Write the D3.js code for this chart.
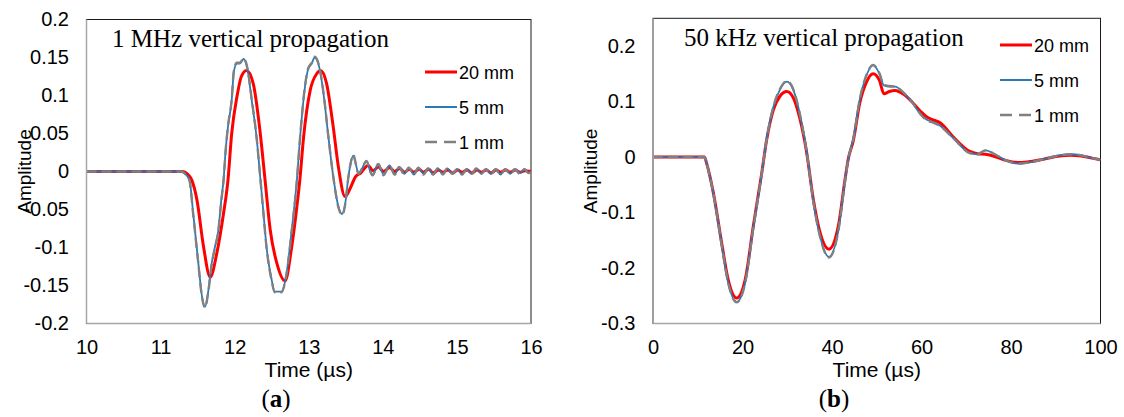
<!DOCTYPE html>
<html>
<head>
<meta charset="utf-8">
<script src="https://cdn.jsdelivr.net/npm/d3@7"></script>
<style>
  body { margin: 0; background: #fff; }
  svg { display: block; }
</style>
</head>
<body>
<svg id="chart" width="1124" height="417"></svg>
<script>
// ---- data ----
const seriesNames = ["20 mm", "5 mm", "1 mm"];

// (a) 1 MHz, time in µs
const mhz20mm = [[10,0],[11.3,0],[11.36,-0.003],[11.42,-0.011],[11.49,-0.037],[11.58,-0.099],[11.67,-0.139],[11.76,-0.107],[11.85,-0.055],[11.91,-0.011],[11.96,0.05],[12.03,0.098],[12.09,0.125],[12.16,0.133],[12.25,0.116],[12.34,0.055],[12.41,-0.011],[12.48,-0.077],[12.57,-0.121],[12.68,-0.144],[12.77,-0.099],[12.84,-0.046],[12.88,-0.011],[12.93,0.045],[13.02,0.107],[13.11,0.129],[13.16,0.133],[13.24,0.116],[13.33,0.059],[13.4,0.006],[13.49,-0.033],[13.56,-0.022],[13.63,-0.007],[13.7,-0.002],[13.8,0.008],[13.87,0.001],[13.94,0.006],[14.01,0],[14.09,0.005],[14.16,0],[14.23,0.004],[14.29,-0.001],[14.36,0.003],[14.42,-0.001],[14.49,0.003],[14.55,-0.001],[14.62,0.003],[14.68,-0.002],[14.75,0.002],[14.81,-0.001],[14.88,0.002],[14.94,-0.002],[15.01,0.002],[15.07,-0.001],[15.14,0.002],[15.2,-0.002],[15.27,0.002],[15.33,-0.001],[15.4,0.002],[15.46,-0.002],[15.53,0.002],[15.59,-0.001],[15.66,0.002],[15.72,-0.001],[15.79,0.002],[15.85,-0.001],[15.92,0.001],[16,0]];
const mhz5mm = [[10,0],[11.28,0],[11.33,-0.003],[11.39,-0.011],[11.44,-0.055],[11.51,-0.121],[11.56,-0.165],[11.6,-0.178],[11.64,-0.16],[11.69,-0.121],[11.73,-0.101],[11.78,-0.077],[11.82,-0.037],[11.85,-0.011],[11.88,0.03],[11.91,0.059],[11.96,0.094],[11.99,0.132],[12.03,0.142],[12.07,0.142],[12.12,0.148],[12.17,0.136],[12.23,0.094],[12.3,0.041],[12.34,-0.002],[12.38,-0.045],[12.43,-0.099],[12.5,-0.143],[12.54,-0.158],[12.63,-0.158],[12.7,-0.134],[12.77,-0.077],[12.84,-0.011],[12.88,0.041],[12.95,0.112],[12.99,0.134],[13.04,0.142],[13.08,0.15],[13.14,0.138],[13.21,0.094],[13.26,0.05],[13.33,-0.006],[13.4,-0.046],[13.45,-0.056],[13.5,-0.037],[13.53,-0.011],[13.56,0.008],[13.6,0.021],[13.64,0.008],[13.67,-0.003],[13.72,0.004],[13.78,0.014],[13.83,0],[13.86,-0.005],[13.94,0.01],[14.01,-0.004],[14.09,0.008],[14.16,-0.004],[14.22,0.006],[14.29,-0.003],[14.35,0.005],[14.42,-0.004],[14.48,0.005],[14.55,-0.003],[14.61,0.004],[14.68,-0.004],[14.74,0.004],[14.81,-0.003],[14.87,0.004],[14.94,-0.003],[15,0.003],[15.07,-0.004],[15.13,0.003],[15.2,-0.003],[15.26,0.004],[15.33,-0.003],[15.39,0.003],[15.46,-0.003],[15.52,0.003],[15.59,-0.004],[15.65,0.003],[15.72,-0.003],[15.78,0.003],[15.85,-0.002],[15.91,0.003],[15.97,-0.002],[16,0]];
const mhz1mm = [[10,0],[11.28,0],[11.33,-0.003],[11.39,-0.012],[11.44,-0.056],[11.51,-0.122],[11.56,-0.166],[11.6,-0.179],[11.64,-0.161],[11.69,-0.122],[11.73,-0.102],[11.78,-0.078],[11.82,-0.038],[11.85,-0.012],[11.88,0.03],[11.91,0.06],[11.96,0.095],[11.99,0.133],[12.03,0.143],[12.07,0.143],[12.12,0.149],[12.17,0.137],[12.23,0.095],[12.3,0.041],[12.34,-0.002],[12.38,-0.046],[12.43,-0.1],[12.5,-0.144],[12.54,-0.159],[12.63,-0.159],[12.7,-0.135],[12.77,-0.078],[12.84,-0.012],[12.88,0.041],[12.95,0.113],[12.99,0.135],[13.04,0.143],[13.08,0.151],[13.14,0.139],[13.21,0.095],[13.26,0.05],[13.33,-0.006],[13.4,-0.047],[13.45,-0.057],[13.5,-0.038],[13.53,-0.011],[13.56,0.008],[13.6,0.022],[13.64,0.008],[13.67,-0.003],[13.72,0.004],[13.78,0.014],[13.83,0],[13.86,-0.005],[13.94,0.01],[14.01,-0.005],[14.09,0.008],[14.16,-0.004],[14.22,0.006],[14.29,-0.004],[14.35,0.005],[14.42,-0.004],[14.48,0.005],[14.55,-0.004],[14.61,0.004],[14.68,-0.004],[14.74,0.004],[14.81,-0.004],[14.87,0.004],[14.94,-0.003],[15,0.003],[15.07,-0.004],[15.13,0.003],[15.2,-0.003],[15.26,0.004],[15.33,-0.003],[15.39,0.003],[15.46,-0.003],[15.52,0.003],[15.59,-0.004],[15.65,0.003],[15.72,-0.003],[15.78,0.003],[15.85,-0.003],[15.91,0.003],[15.97,-0.002],[16,0]];

// (b) 50 kHz, time in µs
const khz20mm = [[0,0],[11.5,0],[12,-0.012],[13.5,-0.065],[15.35,-0.155],[16.8,-0.221],[18.7,-0.254],[20.6,-0.221],[22.4,-0.125],[24.3,-0.029],[25.4,0.031],[26.9,0.085],[28.4,0.11],[29.9,0.118],[31.4,0.106],[32.8,0.07],[34.3,0.01],[35.8,-0.075],[37.3,-0.135],[39.3,-0.166],[41.4,-0.125],[42.9,-0.041],[43.6,-0.005],[44.8,0.031],[46.2,0.097],[47.7,0.135],[49.2,0.15],[50.6,0.138],[51.6,0.114],[52.8,0.118],[54.1,0.12],[56,0.113],[57.8,0.1],[59.7,0.083],[61.2,0.072],[62.6,0.067],[64.1,0.062],[67,0.037],[70.8,0.01],[72.5,0.006],[74.3,0.005],[76.4,0.001],[78.8,-0.006],[81.9,-0.01],[84.5,-0.008],[87.7,-0.003],[90.9,0.002],[93.3,0.003],[95.7,0.002],[98.1,-0.002],[100,-0.005]];
const khz5mm = [[0,0],[11.5,0],[12,-0.012],[13.5,-0.066],[15.35,-0.158],[16.8,-0.226],[18.7,-0.261],[20.6,-0.226],[22.4,-0.128],[24.3,-0.03],[25.4,0.032],[26.9,0.09],[28.4,0.122],[29.9,0.136],[31.4,0.12],[32.8,0.078],[34.3,0.012],[35.8,-0.078],[37.3,-0.142],[39.3,-0.18],[41.4,-0.133],[42.9,-0.043],[43.6,-0.005],[44.8,0.034],[46.2,0.103],[47.7,0.147],[49.2,0.165],[50.6,0.15],[51.6,0.129],[52.8,0.127],[54.1,0.127],[56,0.116],[57.8,0.1],[59.7,0.078],[61.2,0.067],[62.6,0.063],[64.1,0.057],[67,0.035],[70.8,0.007],[72.5,0.005],[74.3,0.012],[76.4,0.005],[78.8,-0.006],[81.9,-0.012],[84.5,-0.009],[87.7,-0.003],[90.9,0.003],[93.3,0.005],[95.7,0.003],[98.1,-0.002],[100,-0.005]];
const khz1mm = [[0,0],[11.5,0],[12,-0.012],[13.5,-0.066],[15.35,-0.159],[16.8,-0.227],[18.7,-0.262],[20.6,-0.227],[22.4,-0.129],[24.3,-0.03],[25.4,0.032],[26.9,0.091],[28.4,0.123],[29.9,0.137],[31.4,0.121],[32.8,0.078],[34.3,0.012],[35.8,-0.079],[37.3,-0.143],[39.3,-0.181],[41.4,-0.134],[42.9,-0.044],[43.6,-0.005],[44.8,0.034],[46.2,0.104],[47.7,0.148],[49.2,0.166],[50.6,0.151],[51.6,0.13],[52.8,0.128],[54.1,0.127],[56,0.116],[57.8,0.1],[59.7,0.078],[61.2,0.066],[62.6,0.062],[64.1,0.056],[67,0.035],[70.8,0.007],[72.5,0.005],[74.3,0.012],[76.4,0.005],[78.8,-0.006],[81.9,-0.012],[84.5,-0.009],[87.7,-0.003],[90.9,0.003],[93.3,0.005],[95.7,0.003],[98.1,-0.002],[100,-0.005]];

const xTicksA = [10, 11, 12, 13, 14, 15, 16];
const yTicksA = [0.2, 0.15, 0.1, 0.05, 0, -0.05, -0.1, -0.15, -0.2];
const xTicksB = [0, 20, 40, 60, 80, 100];
const yTicksB = [0.2, 0.1, 0, -0.1, -0.2, -0.3];

// ---- styles ----
const colors = ["#ff0000", "#2a7ab9", "#808080"];
const widths = [3, 1.8, 2.4];
const dashes = [null, null, "10,5"];
const sans = "'Liberation Sans', Arial, sans-serif";
const serif = "'Liberation Serif', 'Times New Roman', serif";

const svg = d3.select("#chart");
svg.append("rect").attr("width", 1124).attr("height", 417).attr("fill", "#fff");

const drawPanel = function (p) {
    const x = d3.scaleLinear().domain(p.xDomain).range([p.left, p.right]);
    const y = d3.scaleLinear().domain(p.yDomain).range([p.bottom, p.top]);
    const g = svg.append("g");

    // plot frame: dark top/right, grey axis lines left/bottom
    g.append("rect")
        .attr("x", p.left).attr("y", p.top)
        .attr("width", p.right - p.left).attr("height", p.bottom - p.top)
        .attr("fill", "none").attr("stroke", "#1a1a1a").attr("stroke-width", 1);

    const clipId = "clip" + p.id;
    svg.append("clipPath").attr("id", clipId)
        .append("rect")
        .attr("x", p.left).attr("y", p.top - 4)
        .attr("width", p.right - p.left).attr("height", p.bottom - p.top + 8);

    const line = d3.line()
        .x(d => x(d[0]))
        .y(d => y(d[1]))
        .curve(d3.curveMonotoneX);

    p.series.forEach(function (s, i) {
        g.append("path")
            .datum(s)
            .attr("clip-path", "url(#" + clipId + ")")
            .attr("d", line)
            .attr("fill", "none")
            .attr("stroke", colors[i])
            .attr("stroke-width", widths[i])
            .attr("stroke-dasharray", dashes[i])
            .attr("stroke-linejoin", "round");
    });

    // axes
    const yAxis = g.append("g")
        .attr("transform", "translate(" + p.left + ",0)")
        .call(d3.axisLeft(y).tickValues(p.yTicks).tickSize(0).tickPadding(17.5)
            .tickFormat(d => String(+d.toFixed(2))));
    const xAxis = g.append("g")
        .attr("transform", "translate(0," + p.bottom + ")")
        .call(d3.axisBottom(x).tickValues(p.xTicks).tickSize(0).tickFormat(d => String(d)));
    [xAxis, yAxis].forEach(function (a) {
        a.select(".domain").remove();
        a.selectAll("text")
            .style("font-family", sans)
            .style("font-size", "20px")
            .attr("fill", "#000");
    });
    xAxis.selectAll("text").attr("y", 30).attr("dy", null);

    g.append("line")
        .attr("x1", p.left).attr("x2", p.left)
        .attr("y1", p.top).attr("y2", p.bottom)
        .attr("stroke", "#a6a6a6").attr("stroke-width", 1.5);
    g.append("line")
        .attr("x1", p.left).attr("x2", p.right)
        .attr("y1", p.bottom).attr("y2", p.bottom)
        .attr("stroke", "#a6a6a6").attr("stroke-width", 1.5);

    // axis titles
    g.append("text")
        .attr("x", (p.left + p.right) / 2).attr("y", 377)
        .attr("text-anchor", "middle")
        .style("font-family", sans).style("font-size", "21px")
        .text("Time (µs)");
    g.append("text")
        .attr("transform", "translate(" + (p.left - 56) + "," + ((p.top + p.bottom) / 2) + ") rotate(-90)")
        .attr("text-anchor", "middle")
        .style("font-family", sans).style("font-size", "19px")
        .text("Amplitude");

    // title inside the plot
    g.append("text")
        .attr("x", p.titleX).attr("y", p.titleY)
        .style("font-family", serif).style("font-size", "25px")
        .text(p.title);

    // legend
    seriesNames.forEach(function (name, i) {
        const ly = p.legendY + i * 35;
        g.append("line")
            .attr("x1", p.legendX).attr("x2", p.legendX + 32)
            .attr("y1", ly).attr("y2", ly)
            .attr("stroke", colors[i])
            .attr("stroke-width", i === 0 ? 3 : (i === 1 ? 2 : 2.5))
            .attr("stroke-dasharray", i === 2 ? "12,7" : null);
        g.append("text")
            .attr("x", p.legendX + 34).attr("y", ly + 6.5)
            .style("font-family", sans).style("font-size", "18px")
            .text(name);
    });

    // panel label
    const lab = g.append("text")
        .attr("x", p.labelX).attr("y", 407)
        .attr("text-anchor", "middle")
        .style("font-family", serif).style("font-size", "25px");
    lab.append("tspan").text("(");
    lab.append("tspan").attr("font-weight", "bold").text(p.label);
    lab.append("tspan").text(")");
};

drawPanel({
    id: "a", left: 86.5, right: 531, top: 19.5, bottom: 323.5,
    xDomain: [10, 16], yDomain: [-0.2, 0.2],
    xTicks: xTicksA, yTicks: yTicksA,
    series: [mhz20mm, mhz5mm, mhz1mm],
    title: "1 MHz vertical propagation", titleX: 112, titleY: 46.5,
    legendX: 425, legendY: 72,
    label: "a", labelX: 276
});

drawPanel({
    id: "b", left: 653, right: 1100.5, top: 18.3, bottom: 323.5,
    xDomain: [0, 100], yDomain: [-0.3, 0.25],
    xTicks: xTicksB, yTicks: yTicksB,
    series: [khz20mm, khz5mm, khz1mm],
    title: "50 kHz vertical propagation", titleX: 684, titleY: 45.5,
    legendX: 1000, legendY: 45,
    label: "b", labelX: 834
});
</script>
</body>
</html>
